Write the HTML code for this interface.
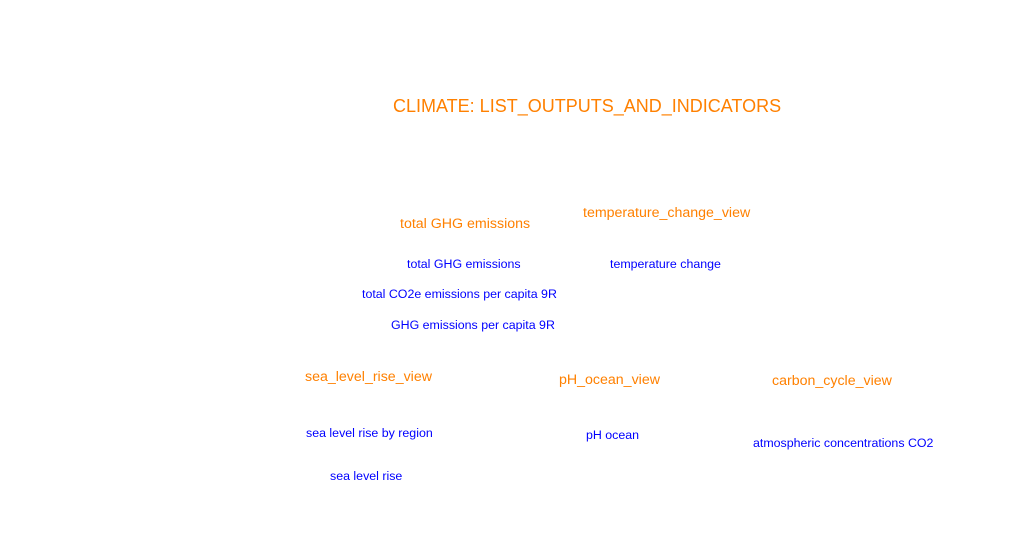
<!DOCTYPE html>
<html><head><style>
body{margin:0;width:1018px;height:560px;background:#fff;position:relative;overflow:hidden;font-family:"Liberation Sans",sans-serif}
div{position:absolute;white-space:nowrap}
.o{color:#ff8000;font-size:14.2px}
.b{color:#0000ff;font-size:12.4px}
</style></head><body>
<div class="o" style="left:393px;top:96px;font-size:18px">CLIMATE: LIST_OUTPUTS_AND_INDICATORS</div>
<div class="o" style="left:400px;top:216px">total GHG emissions</div>
<div class="o" style="left:583px;top:205px">temperature_change_view</div>
<div class="b" style="left:407px;top:257px">total GHG emissions</div>
<div class="b" style="left:610px;top:257px">temperature change</div>
<div class="b" style="left:362px;top:287px">total CO2e emissions per capita 9R</div>
<div class="b" style="left:391px;top:318px">GHG emissions per capita 9R</div>
<div class="o" style="left:305px;top:369px">sea_level_rise_view</div>
<div class="o" style="left:559px;top:372px">pH_ocean_view</div>
<div class="o" style="left:772px;top:373px">carbon_cycle_view</div>
<div class="b" style="left:306px;top:426px">sea level rise by region</div>
<div class="b" style="left:586px;top:428px">pH ocean</div>
<div class="b" style="left:753px;top:436px">atmospheric concentrations CO2</div>
<div class="b" style="left:330px;top:469px">sea level rise</div>
</body></html>
